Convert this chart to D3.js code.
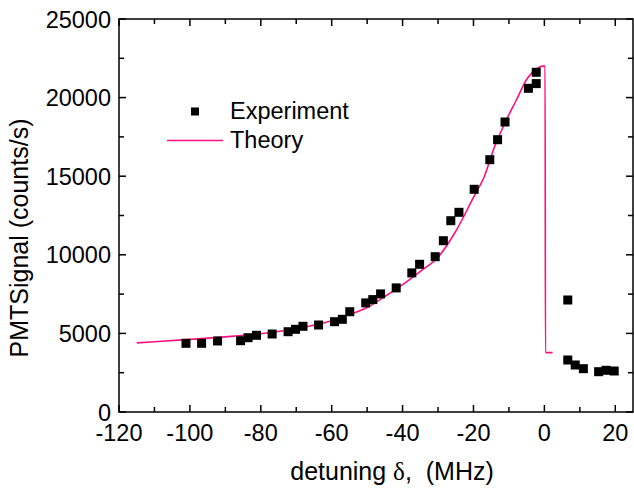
<!DOCTYPE html>
<html>
<head>
<meta charset="utf-8">
<script src="https://cdn.jsdelivr.net/npm/d3@7"></script>
<style>
  body { margin: 0; background: #fff; }
  svg { display: block; font-family: "Liberation Sans", Arial, sans-serif; }
</style>
</head>
<body>
<div id="chart"></div>
<script>
// experiment points (detuning MHz, counts/s)
const expX = [-101.1, -96.7, -92.2, -85.7, -83.6, -81.2, -76.8, -72.3, -70.2, -68.1, -63.7, -59.2, -57.0, -54.9,
  -50.4, -48.4, -46.2, -41.8, -37.4, -35.2, -30.8, -28.5, -26.4, -24.1, -19.8, -15.4, -13.2, -11.1, -4.5, -2.3, -2.3,
  6.6, 6.6, 8.7, 11.0, 15.3, 17.4, 19.7];
const expY = [4370, 4370, 4517, 4536, 4726, 4879, 4962, 5108, 5261, 5452, 5534, 5744, 5897, 6380,
  6940, 7150, 7513, 7894, 8849, 9396, 9879, 10897, 12169, 12703, 14167, 16050, 17322, 18448, 20591, 20890, 21610,
  7125, 3308, 2990, 2755, 2564, 2653, 2608];

// theory curve
const theoryX = [-115, -110, -100, -90, -80, -70, -60, -55, -50, -45, -40, -35, -30, -25, -20, -17, -14, -11, -8, -5, -2, -0.5, 0.2, 0.3, 2.3];
const theoryY = [4400, 4470, 4620, 4780, 4980, 5300, 5800, 6200, 6650, 7350, 8100, 8950, 9850, 11500, 13650, 14950, 16900, 18450, 19800, 21150, 21850, 22000, 22000, 3780, 3780];

const xTicks = [-120, -100, -80, -60, -40, -20, 0, 20];
const yTicks = [0, 5000, 10000, 15000, 20000, 25000];

const width = 634, height = 495;
const margin = { top: 19, right: 1, bottom: 83, left: 119 };

const svg = d3.select("#chart").append("svg")
  .attr("width", width)
  .attr("height", height);

const x = d3.scaleLinear().domain([-120, 25]).range([margin.left, width - margin.right]);
const y = d3.scaleLinear().domain([0, 25000]).range([height - margin.bottom, margin.top]);

const x0 = x.range()[0], x1 = x.range()[1];
const y0 = y.range()[0], y1 = y.range()[1];

// minor ticks every 10 / 2500
const xMinor = d3.range(-110, 25, 20);
const yMinor = d3.range(2500, 25000, 5000);

function drawTicks(g, vals, len) {
  vals.forEach(v => {
    g.append("line").attr("x1", x(v)).attr("x2", x(v)).attr("y1", y0).attr("y2", y0 - len);
    g.append("line").attr("x1", x(v)).attr("x2", x(v)).attr("y1", y1).attr("y2", y1 + len);
  });
}
function drawYTicks(g, vals, len) {
  vals.forEach(v => {
    g.append("line").attr("x1", x0).attr("x2", x0 + len).attr("y1", y(v)).attr("y2", y(v));
    g.append("line").attr("x1", x1).attr("x2", x1 - len).attr("y1", y(v)).attr("y2", y(v));
  });
}

const tickG = svg.append("g").attr("stroke", "#000").attr("stroke-width", 1.5);
drawTicks(tickG, xTicks, 7);
drawTicks(tickG, xMinor, 5);
drawYTicks(tickG, yTicks, 7);
drawYTicks(tickG, yMinor, 5);

// tick labels
svg.append("g").selectAll("text")
  .data(xTicks)
  .enter().append("text")
  .attr("x", d => x(d))
  .attr("y", y0 + 29)
  .attr("text-anchor", "middle")
  .attr("font-size", 23.5)
  .text(d => d);

svg.append("g").selectAll("text")
  .data(yTicks)
  .enter().append("text")
  .attr("x", x0 - 8)
  .attr("y", d => y(d) + 8.5)
  .attr("text-anchor", "end")
  .attr("font-size", 23.5)
  .text(d => d);

// theory line
const line = d3.line()
  .x((d, i) => x(theoryX[i]))
  .y((d, i) => y(theoryY[i]))
  .curve(d3.curveMonotoneX);

svg.append("path")
  .datum(theoryX)
  .attr("d", line)
  .attr("fill", "none")
  .attr("stroke", "#ff1080")
  .attr("stroke-width", 1.6);

// experiment squares
const sq = 9;
svg.append("g").selectAll("rect")
  .data(expX)
  .enter().append("rect")
  .attr("x", (d, i) => x(d) - sq / 2)
  .attr("y", (d, i) => y(expY[i]) - sq / 2)
  .attr("width", sq)
  .attr("height", sq)
  .attr("fill", "#000");

// frame
svg.append("rect")
  .attr("x", x0).attr("y", y1)
  .attr("width", x1 - x0).attr("height", y0 - y1)
  .attr("fill", "none")
  .attr("stroke", "#000")
  .attr("stroke-width", 1.5);

// legend
svg.append("rect").attr("x", 191).attr("y", 107.5).attr("width", 8).attr("height", 8).attr("fill", "#000");
svg.append("text").attr("x", 230).attr("y", 119).attr("font-size", 23.5).text("Experiment");
svg.append("line").attr("x1", 167).attr("x2", 223).attr("y1", 140.5).attr("y2", 140.5)
  .attr("stroke", "#ff1080").attr("stroke-width", 1.6);
svg.append("text").attr("x", 230).attr("y", 148).attr("font-size", 23.5).text("Theory");

// axis titles
const xt = svg.append("text")
  .attr("x", 392)
  .attr("y", 480)
  .attr("text-anchor", "middle")
  .attr("font-size", 25);
xt.append("tspan").text("detuning ");
xt.append("tspan").attr("font-family", "Liberation Serif, serif").text("δ");
xt.append("tspan").attr("xml:space", "preserve").text(",  (MHz)");

svg.append("text")
  .attr("transform", "translate(28,238) rotate(-90)")
  .attr("text-anchor", "middle")
  .attr("font-size", 25)
  .text("PMTSignal (counts/s)");
</script>
</body>
</html>
